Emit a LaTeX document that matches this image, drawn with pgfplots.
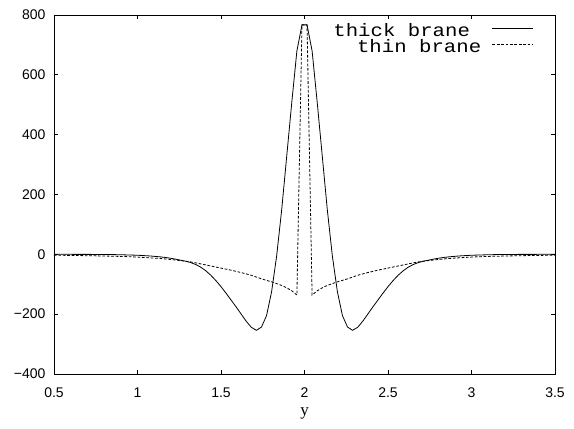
\documentclass[border=0pt]{standalone}
\usepackage{fontspec}
\setmainfont{Liberation Sans}
\newfontfamily\legfont[FakeStretch=1.15]{Liberation Mono}
\newfontfamily\labfont{Liberation Serif}
\usepackage{pgfplots}
\usepackage{pgfplotstable}
\pgfplotsset{compat=1.18}

% x, thick brane, thin brane (100 samples on [0.5,3.5])
\pgfplotstableread{
x      thick   thin
0.5000    0.0   -3.0
0.5303    0.0   -3.2
0.5606    0.0   -3.4
0.5909    0.0   -3.6
0.6212   -0.1   -3.8
0.6515   -0.1   -4.1
0.6818   -0.2   -4.4
0.7121   -0.2   -4.7
0.7424   -0.3   -5.0
0.7727   -0.4   -5.3
0.8030   -0.5   -5.7
0.8333   -0.7   -6.1
0.8636   -1.0   -6.5
0.8939   -1.3   -7.0
0.9242   -1.8   -7.5
0.9545   -2.3   -8.0
0.9848   -2.8   -8.8
1.0152   -3.5   -9.7
1.0455   -4.5  -10.7
1.0758   -5.5  -11.7
1.1061   -7.0  -12.8
1.1364   -8.5  -14.0
1.1667  -10.5  -15.5
1.1970  -13.0  -17.2
1.2273  -16.0  -19.0
1.2576  -19.5  -21.0
1.2879  -23.0  -23.0
1.3182  -27.5  -25.3
1.3485  -34.0  -28.5
1.3788  -43.0  -32.0
1.4091  -55.0  -35.5
1.4394  -70.0  -39.0
1.4697  -88.0  -42.5
1.5000 -108.0  -46.0
1.5303 -130.0  -49.5
1.5606 -153.0  -53.0
1.5909 -176.0  -57.0
1.6212 -200.0  -61.0
1.6515 -224.0  -65.5
1.6818 -244.0  -70.0
1.7121 -254.0  -76.0
1.7424 -243.0  -82.0
1.7727 -205.0  -87.0
1.8030 -125.0  -92.0
1.8333   -5.0  -98.0
1.8636  150.0 -104.0
1.8939  330.0 -112.0
1.9242  510.0 -122.0
1.9545  680.0 -136.0
1.9848  767.0  767.0
2.0152  767.0  767.0
2.0455  680.0 -136.0
2.0758  510.0 -122.0
2.1061  330.0 -112.0
2.1364  150.0 -104.0
2.1667   -5.0  -98.0
2.1970 -125.0  -92.0
2.2273 -205.0  -87.0
2.2576 -243.0  -82.0
2.2879 -254.0  -76.0
2.3182 -244.0  -70.0
2.3485 -224.0  -65.5
2.3788 -200.0  -61.0
2.4091 -176.0  -57.0
2.4394 -153.0  -53.0
2.4697 -130.0  -49.5
2.5000 -108.0  -46.0
2.5303  -88.0  -42.5
2.5606  -70.0  -39.0
2.5909  -55.0  -35.5
2.6212  -43.0  -32.0
2.6515  -34.0  -28.5
2.6818  -27.5  -25.3
2.7121  -23.0  -23.0
2.7424  -19.5  -21.0
2.7727  -16.0  -19.0
2.8030  -13.0  -17.2
2.8333  -10.5  -15.5
2.8636   -8.5  -14.0
2.8939   -7.0  -12.8
2.9242   -5.5  -11.7
2.9545   -4.5  -10.7
2.9848   -3.5   -9.7
3.0152   -2.8   -8.8
3.0455   -2.3   -8.0
3.0758   -1.8   -7.5
3.1061   -1.3   -7.0
3.1364   -1.0   -6.5
3.1667   -0.7   -6.1
3.1970   -0.5   -5.7
3.2273   -0.4   -5.3
3.2576   -0.3   -5.0
3.2879   -0.2   -4.7
3.3182   -0.2   -4.4
3.3485   -0.1   -4.1
3.3788   -0.1   -3.8
3.4091    0.0   -3.6
3.4394    0.0   -3.4
3.4697    0.0   -3.2
3.5000    0.0   -3.0
}\branes

\begin{document}
\begin{tikzpicture}
\begin{axis}[
    scale only axis,
    width=501bp, height=359bp,
    xmin=0.5, xmax=3.5,
    ymin=-400, ymax=800,
    xtick={0.5,1,1.5,2,2.5,3,3.5},
    xticklabels={0.5,1,1.5,2,2.5,3,3.5},
    ytick={-400,-200,0,200,400,600,800},
    yticklabels={−400,−200,0,200,400,600,800},
    tick pos=both,
    tick align=inside,
    major tick length=4.5bp,
    every tick/.style={black, line width=0.7bp},
    axis line style={line width=0.9bp},
    tick label style={font=\fontsize{14bp}{16bp}\selectfont},
    xticklabel style={yshift=-10bp},
    yticklabel style={xshift=-5bp},
    xlabel={y},
    xlabel style={font=\labfont\fontsize{17bp}{17bp}\selectfont, yshift=-3bp},
    legend plot pos=right,
    legend cell align=right,
    legend image code/.code={\draw[#1] (0bp,4bp) -- (41bp,4bp);},
    legend style={
        draw=none, fill=none,
        at={(rel axis cs:1,1)}, anchor=north east,
        xshift=-18bp, yshift=-7bp,
        font=\legfont\fontsize{18bp}{18bp}\selectfont,
        nodes={inner sep=0pt, text height=12bp, text depth=4bp},
        row sep=0pt, column sep=22bp,
    },
]
\addplot[black, line width=0.8bp] table[x=x, y=thick] {\branes};
\addlegendentry{thick brane}
\addplot[black, line width=0.8bp, dash pattern=on 2.7bp off 1.7bp] table[x=x, y=thin] {\branes};
\addlegendentry{\makebox[113bp][l]{thin brane}}
\end{axis}
\path (current axis.south west) ++(-54bp,-55bp) rectangle ++(574bp,429bp);
\end{tikzpicture}
\end{document}
